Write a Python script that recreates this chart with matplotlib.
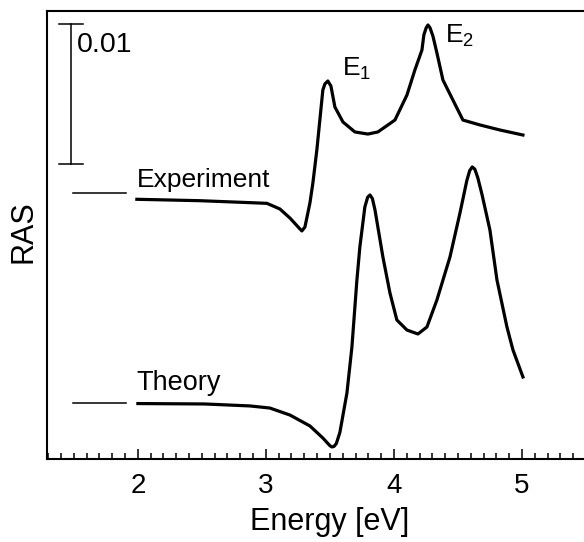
import matplotlib
matplotlib.use("Agg")
import matplotlib.pyplot as plt
from matplotlib.ticker import MultipleLocator

plt.rcParams['font.family'] = ['Liberation Sans', 'DejaVu Sans']
plt.rcParams['mathtext.fontset'] = 'custom'
plt.rcParams['mathtext.rm'] = 'Liberation Sans'
plt.rcParams['mathtext.it'] = 'Liberation Sans'

# RAS values in units of 1e-3 (curves already vertically offset)
exp_energy = [1.992, 2.484, 2.875, 3.008, 3.109, 3.188, 3.266, 3.281, 3.305, 3.344, 3.367,
              3.398, 3.445, 3.461, 3.484, 3.508, 3.539, 3.602, 3.695, 3.797, 3.875, 4.008,
              4.102, 4.164, 4.219, 4.234, 4.252, 4.266, 4.282, 4.305, 4.336, 4.383, 4.539,
              4.672, 4.828, 5.008]
exp_ras = [18.55, 18.45, 18.31, 18.26, 17.86, 17.21, 16.43, 16.29, 16.57, 18.29, 19.71,
           22.07, 26.36, 26.79, 27.0, 26.64, 25.14, 24.07, 23.36, 23.21, 23.36, 24.21,
           26.0, 27.79, 29.21, 30.29, 30.8, 31.0, 30.8, 30.2, 29.0, 27.07, 24.21,
           23.86, 23.5, 23.14]

th_energy = [2.0, 2.523, 2.875, 3.031, 3.188, 3.344, 3.445, 3.500, 3.516, 3.532, 3.550,
             3.578, 3.633, 3.672, 3.711, 3.734, 3.773, 3.795, 3.813, 3.832, 3.852, 3.914,
             3.969, 4.023, 4.102, 4.188, 4.258, 4.336, 4.438, 4.516, 4.570, 4.592, 4.612,
             4.632, 4.655, 4.688, 4.75, 4.805, 4.883, 4.93, 5.008]
th_ras = [3.96, 3.93, 3.79, 3.64, 3.14, 2.36, 1.5, 0.95, 0.86, 0.9, 1.1,
          1.9, 4.71, 8.0, 12.79, 15.14, 18.0, 18.7, 18.86, 18.6, 17.8, 14.43,
          11.86, 9.93, 9.21, 8.93, 9.43, 11.36, 14.43, 17.57, 19.9, 20.6, 20.86,
          20.7, 20.1, 18.9, 16.36, 12.79, 9.43, 7.79, 5.86]

exp_zero = 19.02
th_zero = 4.0
scale_bar = 10.0  # = 0.01
scale_label = "0.01"
x_ticks = [2, 3, 4, 5]

fig = plt.figure(figsize=(5.84, 5.42), dpi=100)
ax = fig.add_axes([47/584, (542-459)/542, (584-47)/584, (459-10.7)/542])
ax.set_xlim(1.29, 5.485)
ax.set_ylim(0, 32.02)

ax.plot(exp_energy, exp_ras, color='black', lw=2.3, solid_joinstyle='round')
ax.plot(th_energy, th_ras, color='black', lw=2.3, solid_joinstyle='round')

# zero-level markers
ax.plot([1.492, 1.906], [exp_zero, exp_zero], color='black', lw=1.1)
ax.plot([1.492, 1.906], [th_zero, th_zero], color='black', lw=1.1)

# scale bar
top = 31.07
ax.plot([1.477, 1.477], [top - scale_bar, top], color='black', lw=1.1)
ax.plot([1.383, 1.57], [top, top], color='black', lw=1.1)
ax.plot([1.383, 1.57], [top - scale_bar, top - scale_bar], color='black', lw=1.1)
ax.text(1.525, 29.6, scale_label, fontsize=20.5, va='center', ha='left')

ax.text(1.992, 19.45, "Experiment", fontsize=19, va='baseline', ha='left')
ax.text(1.992, 4.93, "Theory", fontsize=19.5, va='baseline', ha='left')
ax.text(3.594, 27.36, r"E$_\mathrm{1}$", fontsize=19, va='baseline', ha='left')
ax.text(4.398, 29.74, r"E$_\mathrm{2}$", fontsize=19, va='baseline', ha='left')

ax.set_xticks(x_ticks)
ax.xaxis.set_minor_locator(MultipleLocator(0.1))
ax.tick_params(axis='x', which='major', direction='in', length=7, width=1.1,
               labelsize=20, pad=10)
ax.tick_params(axis='x', which='minor', direction='in', length=4, width=1.1)
ax.set_yticks([])
for s in ['left', 'bottom', 'top']:
    ax.spines[s].set_linewidth(1.5)
ax.spines['right'].set_visible(False)

fig.text(330/584, 1 - 522/542, "Energy [eV]", fontsize=22, ha='center', va='center')
fig.text(23/584, 1 - 232/542, "RAS", fontsize=22, ha='center', va='center', rotation=90)

fig.savefig("out.png", dpi=100)
